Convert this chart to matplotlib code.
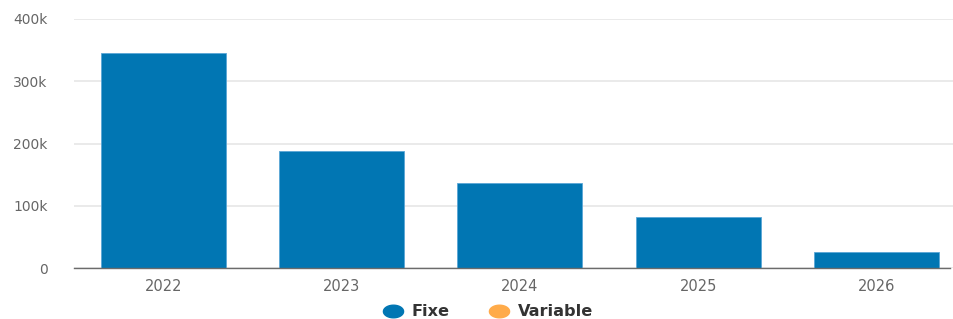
import matplotlib
matplotlib.use("Agg")
import matplotlib.pyplot as plt
import numpy as np
from matplotlib.lines import Line2D
from matplotlib.path import Path
from matplotlib.ticker import FuncFormatter

plt.rcParams['font.family'] = ['DejaVu Sans']

years = ["2022", "2023", "2024", "2025", "2026"]
fixe = [345000, 188000, 136000, 82000, 26000]
variable = [0, 0, 0, 0, 0]
y_ticks = [0, 100000, 200000, 300000, 400000]
series_names = ["Fixe", "Variable"]

c_fixe = "#0176b3"
c_var = "#ffab4a"

W, H = 954, 319
fig = plt.figure(figsize=(W/100, H/100), dpi=100)
ax = fig.add_axes([74/W, 51/H, (W-74)/W, (268-19)/H])

x = list(range(len(years)))
ax.bar(x, fixe, width=0.7, color=c_fixe, edgecolor="#5aa6d6", linewidth=0.6, zorder=3)
ax.bar(x, variable, bottom=fixe, width=0.7, color=c_var, zorder=3)

ax.set_ylim(0, 400000)
ax.set_xlim(-0.5, 4.434)
ax.set_yticks(y_ticks)
ax.yaxis.set_major_formatter(FuncFormatter(lambda v, p: "0" if v == 0 else f"{int(v/1000)}k"))
ax.set_xticks(x)
ax.set_xticklabels(years)
ax.tick_params(axis='y', length=0, pad=19, labelsize=10, labelcolor="#666666")
ax.tick_params(axis='x', length=0, pad=8, labelsize=10.5, labelcolor="#666666")

ax.grid(axis='y', color="#e6e6e6", linewidth=1.2, zorder=0)
ax.set_axisbelow(True)
for s in ["top", "right", "left"]:
    ax.spines[s].set_visible(False)
ax.spines["bottom"].set_bounds(-0.5, 4.41)
ax.spines["bottom"].set_color("#6b6b6b")
ax.spines["bottom"].set_linewidth(1.0)
ax.spines["bottom"].set_zorder(4)

# legend, drawn manually in figure pixel coordinates
t = np.linspace(0, 2*np.pi, 64)
ell = Path(np.column_stack([1.6*np.cos(t), np.sin(t)]), closed=True)
leg_y = 1 - 311/H
for name, col, cx in zip(series_names, [c_fixe, c_var], [393, 499]):
    fig.add_artist(Line2D([cx/W], [leg_y], marker=ell, linestyle='', markersize=14.5,
                          color=col, transform=fig.transFigure))
    fig.text((cx + 19)/W, leg_y, name, ha='left', va='center', fontsize=11.6,
             fontweight='bold', color="#333333")

fig.savefig("out.png", dpi=100)
